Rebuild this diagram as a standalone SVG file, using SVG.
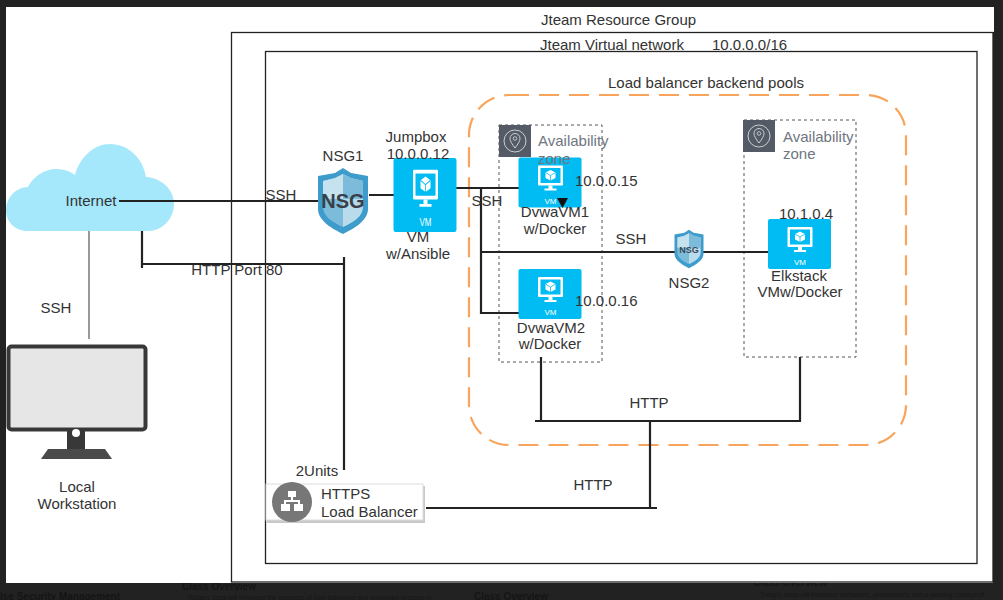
<svg xmlns="http://www.w3.org/2000/svg" width="1003" height="600" viewBox="0 0 1003 600">
<style>
text{font-family:"Liberation Sans",Arial,sans-serif;font-size:15px;fill:#333;text-anchor:middle}
.s{text-anchor:start}
.az{fill:#6f7680;text-anchor:start}
.bg{font-size:10px;fill:#151515;font-weight:bold;text-anchor:start}
.bgs{font-size:6.500px;fill:#171717;text-anchor:start}
.box{fill:#fff;stroke:#222;stroke-width:1.3}
.zone{fill:none;stroke:#555;stroke-width:1;stroke-dasharray:3 3}
.c{fill:none;stroke:#222;stroke-width:2.2}
.t{fill:none;stroke:#777;stroke-width:1.5}
</style>
<defs>
<g id="vm">
<rect width="63" height="50" rx="2" fill="#00bcf2"/>
<rect x="19.500" y="8" width="25" height="20" rx="1" fill="#fff"/>
<rect x="22" y="10.500" width="20" height="15" fill="#00bcf2"/>
<path d="M32 12.500l5 2.500v5.500l-5 2.500-5-2.500v-5.500z" fill="#fff"/>
<path d="M32 18v5M27 15l5 3 5-3" fill="none" stroke="#00bcf2" stroke-width="0.8"/>
<path d="M30 28h4v3h4v2h-12v-2h4z" fill="#fff"/>
<text x="32" y="46" style="font-size:8px;fill:#fff">VM</text>
</g>
<g id="shield">
<path d="M0-33L8-28 25-25V8C25 20 10 28 0 33-10 28-25 20-25 8V-25L-8-28Z" fill="#3d9ccb"/>
<path d="M0-27V26C-9 22-20 16-20 6V-20L-8-23Z" fill="#7dbbdb"/>
<path d="M0-27L8-23 20-20V6C20 16 9 22 0 26Z" fill="#b9dcec"/>
<path d="M0-27V-2H20V-20L8-23Z" fill="#7dbbdb"/>
<path d="M0-27V-2H-20V-20L-8-23Z" fill="#c6e2ef"/>
</g>
<g id="pin">
<rect width="32" height="32" fill="#545b66"/>
<circle cx="16" cy="16" r="11" fill="none" stroke="#d8dade" stroke-width="0.9"/>
<path d="M16 23c-3-4-5-7-5-9.500a5 5 0 0 1 10 0c0 2.500-2 5.500-5 9.500z" fill="none" stroke="#d8dade" stroke-width="0.9"/>
<circle cx="16" cy="13.500" r="1.800" fill="none" stroke="#d8dade" stroke-width="0.8"/>
</g>
</defs>

<rect id="screen-bg" width="1003" height="600" fill="#222"/>
<g id="bg-text">
<text class="bg" x="182" y="590">Class Overview</text>
<text class="bg" x="0" y="600">ise Security Management</text>
<text class="bg" x="474" y="600">Class Overview</text>
<text class="bg" x="753" y="586">Class Overview</text>
<text class="bgs" x="188" y="600">Today's class will introduce the concepts of load balancing and redundant systems in</text>
<text class="bgs" x="760" y="597">Today's class will introduce containers, provisioners, and a working concept of</text>
</g>
<path id="canvas" d="M6 7H994V583H6Z" fill="#fff"/>
<rect x="993" y="32" width="10" height="552" fill="#222"/>

<rect id="resource-group" class="box" x="231.500" y="32.500" width="761.500" height="549.500"/>
<text class="s" x="541" y="25">Jteam Resource Group</text>
<rect id="vnet" class="box" x="265.500" y="51.500" width="711.500" height="512"/>
<text class="s" x="540" y="50">Jteam Virtual network</text>
<text class="s" x="712" y="50">10.0.0.0/16</text>

<g id="backend-pool">
<rect x="469" y="95" width="437" height="350" rx="40" fill="none" stroke="#f8a45c" stroke-width="2.200" stroke-dasharray="20 10"/>
<text class="s" x="608" y="88">Load balancer backend pools</text>
</g>

<g id="internet">
<path d="M28 231C14 231 6 221 6 210 6 198 16 187 28 187 33 177 44 169 56 169 63 169 70 171 75 175 80 157 94 144 110 144 128 144 143 158 146 177 161 178 174 189 174 204 174 219 162 231 148 231Z" fill="#a5e8fb"/>
<text x="91" y="206">Internet</text>
</g>

<g id="zone-1-box">
<rect class="zone" x="499" y="125" width="103" height="237"/>
<use href="#pin" x="499" y="125"/>
</g>
<g id="zone-2">
<rect class="zone" x="744" y="120" width="112" height="237"/>
<use href="#pin" x="743" y="120"/>
<text class="az" x="783" y="142">Availability</text>
<text class="az" x="783" y="159">zone</text>
</g>

<g id="connectors">
<path class="t" d="M89 231V339"/>
<path class="c" d="M119 201H318M369 195H394M456 188H519M481 188V313H519M481 252H769"/>
<path class="c" d="M142 231V268M142 264H344M344 257V470"/>
<path class="c" d="M541 357V421M535 421H801M800 357V421M650 421V508M426 508H657"/>
</g>

<g id="workstation">
<rect x="8.500" y="346.500" width="137" height="83" rx="3" fill="#e6e6e6" stroke="#383838" stroke-width="4"/>
<rect x="67" y="431" width="18" height="22" fill="#383838"/>
<circle cx="76" cy="433" r="4" fill="#fff"/>
<path d="M48 449H105L112 459H41Z" fill="#4a4a4a"/>
<text x="77" y="492">Local</text>
<text x="77" y="509">Workstation</text>
</g>
<text x="56" y="313">SSH</text>

<g id="nsg1">
<use href="#shield" x="343" y="201"/>
<text x="343" y="161">NSG1</text>
<text x="343" y="208" style="font-size:20px;font-weight:bold;fill:#3a3f48">NSG</text>
</g>
<text x="281" y="200">SSH</text>
<text x="237" y="275">HTTP Port 80</text>

<g id="jumpbox">
<use href="#vm" transform="translate(393.500,158) scale(1,1.480)"/>
<text x="416" y="142">Jumpbox</text>
<text x="418" y="159">10.0.0.12</text>
<text x="418" y="242">VM</text>
<text x="418" y="259">w/Ansible</text>
</g>
<text x="487" y="206">SSH</text>

<g id="dvwa1">
<use href="#vm" x="518.500" y="157.500"/>
<path d="M557 198h11l-5.500 10z" fill="#111"/>
<text x="555" y="217">DvwaVM1</text>
<text x="555" y="234">w/Docker</text>
<text class="s" x="575" y="186">10.0.0.15</text>
</g>
<g id="dvwa2">
<use href="#vm" x="518.500" y="269"/>
<text x="551" y="333">DvwaVM2</text>
<text x="550" y="349">w/Docker</text>
<text class="s" x="575" y="306">10.0.0.16</text>
</g>
<g id="zone-1-label">
<text class="az" x="538" y="146">Availability</text>
<text class="az" x="538" y="164">zone</text>
</g>
<text x="631" y="244">SSH</text>

<g id="nsg2">
<use href="#shield" transform="translate(689,249) scale(.58)"/>
<text x="689" y="253" style="font-size:9px;font-weight:bold;fill:#3a4a58">NSG</text>
<text x="689" y="288">NSG2</text>
</g>

<g id="elk">
<use href="#vm" x="768" y="219"/>
<text x="806" y="219">10.1.0.4</text>
<text x="799" y="281">Elkstack</text>
<text x="800" y="297">VMw/Docker</text>
</g>

<text x="649" y="408">HTTP</text>
<text x="593" y="490">HTTP</text>
<text x="317" y="476">2Units</text>

<g id="load-balancer">
<rect x="267" y="486" width="158" height="37" fill="#c8c8c8"/>
<rect x="266" y="484" width="157" height="36" fill="#fff" stroke="#ddd"/>
<circle cx="292" cy="502" r="20" fill="#777"/>
<path d="M288 491h8v6h-3v3h7v4h3v7h-9v-7h4v-2h-12v2h4v7h-9v-7h3v-4h7v-3h-3z" fill="#fff"/>
<text class="s" x="321" y="499">HTTPS</text>
<text class="s" x="321" y="517">Load Balancer</text>
</g>
</svg>
